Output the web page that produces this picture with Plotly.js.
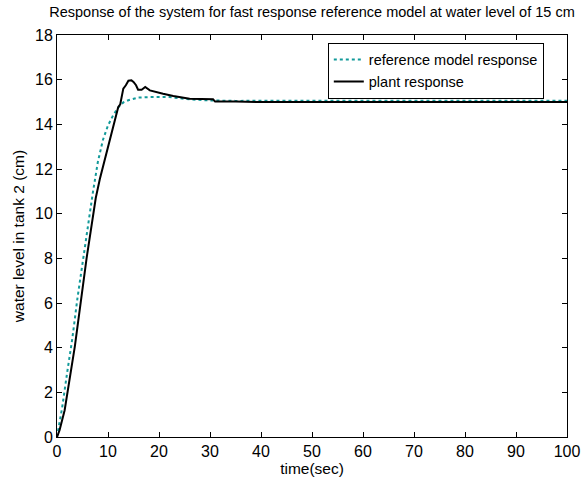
<!DOCTYPE html>
<html><head><meta charset="utf-8">
<script src="https://cdn.plot.ly/plotly-3.0.1.min.js"></script>
<style>html,body{margin:0;padding:0;background:#fff}#chart{width:587px;height:479px}</style>
</head><body><div id="chart"></div>
<script>
const refTime = [0,1,2,3,4,5,6,7,8,9,10,11,12,13,14,16,18,22,26,30,35,40,50,60,70,80,90,100];
const refLevel = [0,1.3,2.9,4.4,6.2,7.8,9.4,10.9,12.3,13.3,13.95,14.4,14.75,14.98,15.08,15.2,15.22,15.22,15.12,15.07,15.05,15.05,15.08,15.08,15.06,15.06,15.06,15.06];
const plantTime = [0,0.5,1.5,3.5,5.8,7.1,7.6,8.4,9.75,11,12,12.4,12.7,13,13.5,14,14.6,15,15.5,15.9,16.6,17.3,18.2,19.2,20.8,22.8,26,30.6,31,35,40,50,60,70,80,90,100];
const plantLevel = [0,0.3,1.2,4.06,8.0,10.05,10.7,11.55,12.75,13.95,14.77,14.9,15.3,15.6,15.75,15.95,15.97,15.9,15.75,15.55,15.55,15.67,15.52,15.45,15.37,15.27,15.15,15.12,15.02,15.02,15.0,15.0,15.0,15.0,15.0,15.0,15.0];
const seriesNames = ['reference model response','plant response'];
const titleText = 'Response of the system for fast response reference model at water level of 15 cm';
const xLabel = 'time(sec)';
const yLabel = 'water level in tank 2 (cm)';

const base = 'Arial, "Liberation Sans", sans-serif';
const titleFont = {family:base, size:14.5, color:'#000'};
const labelFont = {family:base, size:15.5, color:'#000'};
const tickFont = {family:'"Liberation Sans Narrow", "Arial Narrow", sans-serif', size:16, color:'#000'};
const legendFont = {family:base, size:14.5, color:'#000'};
const traces = [
  {x:refTime, y:refLevel, name:seriesNames[0], mode:'lines', line:{color:'#129a9a', width:2, dash:'dot'}},
  {x:plantTime, y:plantLevel, name:seriesNames[1], mode:'lines', line:{color:'#000', width:2}}
];
const axisCommon = {showline:true, linecolor:'#000', linewidth:1, mirror:'ticks', ticks:'inside', ticklen:5, tickcolor:'#000', showgrid:false, zeroline:false, tickfont:tickFont};
const layout = {
  width:587, height:479,
  margin:{l:57, r:20, t:35, b:42},
  paper_bgcolor:'#fff', plot_bgcolor:'#fff',
  font:titleFont,
  showlegend:true,
  title:{text:titleText, font:titleFont, x:0.5, xref:'paper', xanchor:'center', y:0.975, yref:'container', yanchor:'middle'},
  xaxis:Object.assign({}, axisCommon, {range:[0,100], dtick:10, title:{text:xLabel, font:labelFont, standoff:2}}),
  yaxis:Object.assign({}, axisCommon, {range:[0,18], dtick:2, title:{text:yLabel, font:labelFont, standoff:6}}),
  legend:{x:0.531, y:0.981, xanchor:'left', yanchor:'top', bgcolor:'#fff', bordercolor:'#000', borderwidth:1, font:legendFont, tracegroupgap:0, itemwidth:30}
};
Plotly.newPlot('chart', traces, layout, {staticPlot:true, displayModeBar:false});
</script></body></html>
